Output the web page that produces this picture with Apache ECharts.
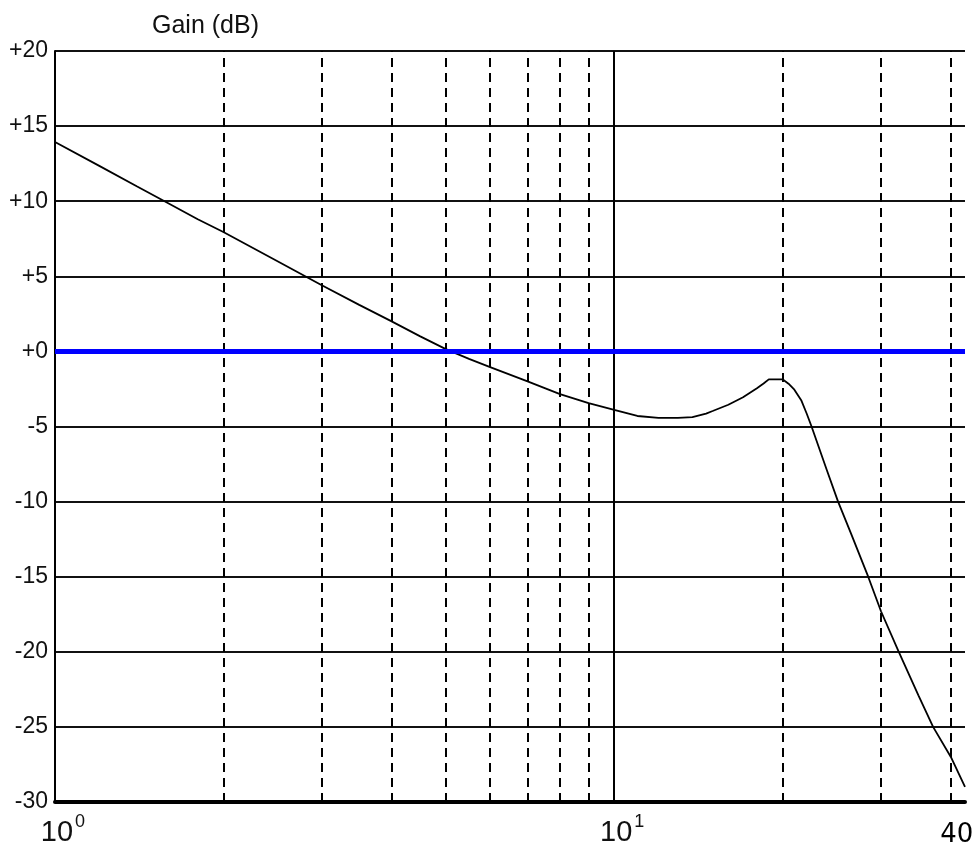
<!DOCTYPE html>
<html>
<head>
<meta charset="utf-8">
<title>Gain (dB)</title>
<script src="https://cdn.jsdelivr.net/npm/echarts@6/dist/echarts.min.js"></script>
<style>
  html, body { margin: 0; padding: 0; background: #fff; }
  #chart { width: 979px; height: 852px; }
</style>
</head>
<body>
<div id="chart"></div>
<script>
// Frequency response magnitude (log frequency axis)
const freq = [1.0, 1.2, 1.4, 1.57, 1.8, 2.0, 2.5, 3.0, 3.5, 4.0, 4.5, 5.0, 5.5, 6.0, 7.0, 8.0, 9.0,
  10.0, 11.0, 12.0, 13.0, 13.8, 14.6, 15.0, 16.0, 17.0, 18.0, 18.5, 18.9, 20.0, 20.5, 21.0, 21.6, 22.1, 22.54,
  24.0, 25.14, 26.5, 28.46, 30.0, 32.28, 35.0, 37.18, 40.0, 42.4];
const gainDb = [13.94, 12.35, 11.0, 10.0, 8.8, 7.95, 6.0, 4.4, 3.1, 2.0, 1.0, 0.15, -0.5, -1.05, -2.0, -2.85, -3.45,
  -3.9, -4.3, -4.42, -4.42, -4.38, -4.14, -3.97, -3.55, -3.05, -2.45, -2.14, -1.86, -1.86, -2.15, -2.55, -3.25, -4.15, -5.0,
  -7.9, -10.0, -12.1, -15.0, -17.3, -20.0, -22.9, -25.0, -27.0, -29.0];

// Grid lines and axis settings
const dashedFreqs = [2, 3, 4, 5, 6, 7, 8, 9, 20, 30, 40];
const solidFreqs = [10];
const freqMin = 1, freqMax = 42.4;
const gainMin = -30, gainMax = 20, gainStep = 5;
const decadeExponents = { 1: '0', 10: '1' };
const edgeLabelFreq = 40;
const referenceGain = 0;

const chart = echarts.init(document.getElementById('chart'), null, { renderer: 'canvas' });

const curve = freq.map((f, i) => [f, gainDb[i]]);

const verticalLines = [];
dashedFreqs.forEach(f => {
  verticalLines.push({
    xAxis: f,
    lineStyle: { type: [9, 6], color: '#000', width: 2 },
    label: f === edgeLabelFreq ? {
      show: true, position: 'start', formatter: String(f),
      fontFamily: 'DejaVu Sans', fontSize: 26, color: '#000',
      distance: 20, offset: [6, 0]
    } : { show: false }
  });
});
solidFreqs.forEach(f => {
  verticalLines.push({
    xAxis: f,
    lineStyle: { type: 'solid', color: '#000', width: 2 },
    label: { show: false }
  });
});

chart.setOption({
  animation: false,
  backgroundColor: '#fff',
  title: {
    text: 'Gain (dB)',
    left: 152, top: 14, padding: 0,
    textStyle: { fontFamily: 'Liberation Sans, Arial, sans-serif', fontSize: 25, fontWeight: 'normal', color: '#111' }
  },
  grid: {
    left: 55, right: 14, top: 51, bottom: 50,
    containLabel: false, outerBoundsMode: 'none'
  },
  xAxis: {
    type: 'log', logBase: 10, min: freqMin, max: freqMax,
    axisLine: { show: true, onZero: false, lineStyle: { color: '#000', width: 4 } },
    axisTick: { show: false },
    splitLine: { show: false },
    axisLabel: {
      show: true, margin: 11, hideOverlap: false,
      showMinLabel: true, showMaxLabel: false,
      padding: [0, 0, 0, 16],
      formatter: v => {
        const key = Math.round(v * 1000) / 1000;
        return decadeExponents[key] !== undefined ? '{b|10}{s|' + decadeExponents[key] + '}' : '';
      },
      rich: {
        b: { fontFamily: 'Liberation Sans, sans-serif', fontSize: 29, color: '#111', lineHeight: 34, verticalAlign: 'bottom' },
        s: { fontFamily: 'Liberation Sans, sans-serif', fontSize: 18, color: '#111', lineHeight: 18, verticalAlign: 'top', padding: [0, 0, 0, 2] }
      }
    }
  },
  yAxis: {
    type: 'value', min: gainMin, max: gainMax, interval: gainStep,
    axisLine: { show: true, onZero: false, lineStyle: { color: '#000', width: 2 } },
    axisTick: { show: false },
    splitLine: { show: true, lineStyle: { color: '#111', width: 2 } },
    axisLabel: {
      margin: 7, showMinLabel: true, showMaxLabel: true,
      fontFamily: 'Liberation Sans, sans-serif', fontSize: 23, color: '#111',
      formatter: v => (v >= 0 ? '+' + v : String(v))
    }
  },
  series: [
    {
      type: 'line',
      name: 'grid',
      data: [],
      silent: true,
      markLine: {
        silent: true, symbol: 'none', animation: false,
        data: verticalLines
      }
    },
    {
      type: 'line',
      name: 'Gain',
      data: curve,
      showSymbol: false,
      smooth: false,
      silent: true,
      lineStyle: { color: '#000', width: 1.8 },
      markLine: {
        silent: true, symbol: 'none', animation: false,
        data: [{ yAxis: referenceGain, lineStyle: { type: 'solid', color: '#0000ff', width: 5 }, label: { show: false } }]
      }
    }
  ]
});
</script>
</body>
</html>
